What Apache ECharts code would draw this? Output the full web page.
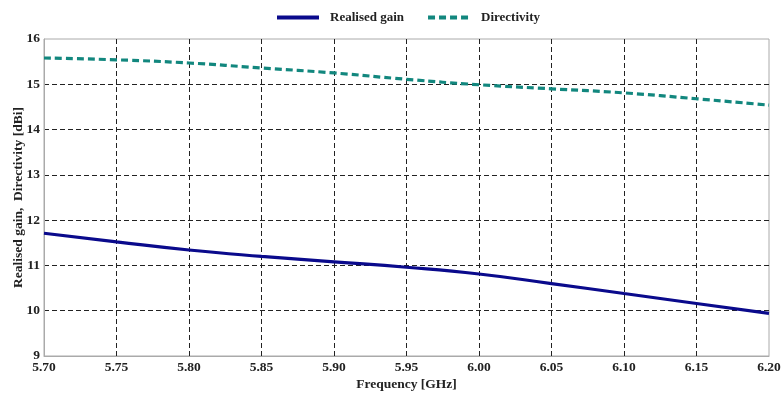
<!DOCTYPE html>
<html>
<head>
<meta charset="utf-8">
<script src="https://cdn.jsdelivr.net/npm/echarts@6/dist/echarts.min.js"></script>
<style>html,body{margin:0;padding:0;background:#fff}#c{width:781px;height:399px}</style>
</head>
<body>
<div id="c"></div>
<script>
const frequency = [5.70, 5.75, 5.80, 5.85, 5.90, 5.95, 6.00, 6.05, 6.10, 6.15, 6.20];
const realisedGain = [11.71, 11.52, 11.34, 11.20, 11.08, 10.96, 10.81, 10.60, 10.38, 10.16, 9.94];
const directivity = [15.58, 15.54, 15.47, 15.36, 15.25, 15.11, 14.99, 14.90, 14.81, 14.68, 14.54];
const seriesNames = ['Realised gain', 'Directivity'];
const xAxisName = 'Frequency [GHz]';
const yAxisName = 'Realised gain,  Directivity [dBi]';

const font = '"Liberation Serif", "Times New Roman", serif';
const chart = echarts.init(document.getElementById('c'), null, {renderer: 'canvas'});
const pair = (xs, ys) => xs.map((x, i) => [x, ys[i]]);
chart.setOption({
  animation: false,
  backgroundColor: '#fff',
  legend: {
    top: 6,
    left: 270,
    itemWidth: 42,
    itemHeight: 10,
    itemGap: 22,
    itemStyle: {opacity: 0},
    lineStyle: {width: 4},
    textStyle: {fontFamily: font, fontWeight: 'bold', fontSize: 13, color: '#222', padding: [0, 0, 0, 6]},
    data: seriesNames
  },
  grid: {left: 44, right: 12, top: 39, bottom: 43, show: true, borderColor: '#aaa', borderWidth: 1,
    outerBoundsMode: 'none', containLabel: false},
  xAxis: {
    type: 'value', min: 5.70, max: 6.20, interval: 0.05,
    name: xAxisName, nameLocation: 'middle', nameGap: 22, nameMoveOverlap: false,
    nameTextStyle: {fontFamily: font, fontWeight: 'bold', fontSize: 13.5, color: '#222'},
    axisLine: {lineStyle: {color: '#aaa', width: 1}},
    axisTick: {show: false},
    axisLabel: {fontFamily: font, fontWeight: 'bold', fontSize: 13.5, color: '#222', margin: 5,
      formatter: v => v.toFixed(2)},
    splitLine: {show: true, showMinLine: false, showMaxLine: false,
      lineStyle: {color: '#222', type: [5, 3], width: 1}}
  },
  yAxis: {
    type: 'value', min: 9, max: 16, interval: 1,
    name: yAxisName, nameLocation: 'middle', nameGap: 18, nameMoveOverlap: false,
    nameTextStyle: {fontFamily: font, fontWeight: 'bold', fontSize: 13.5, color: '#222'},
    axisLine: {show: true, lineStyle: {color: '#aaa', width: 1}},
    axisTick: {show: false},
    axisLabel: {fontFamily: font, fontWeight: 'bold', fontSize: 13.5, color: '#222', margin: 4},
    splitLine: {show: true, showMinLine: false, showMaxLine: false,
      lineStyle: {color: '#222', type: [5, 3], width: 1}}
  },
  series: [
    {
      name: seriesNames[0], type: 'line', data: pair(frequency, realisedGain),
      smooth: true, showSymbol: false, symbol: 'none',
      lineStyle: {color: '#0a0a8c', width: 3.2},
      itemStyle: {color: '#0a0a8c'}
    },
    {
      name: seriesNames[1], type: 'line', data: pair(frequency, directivity),
      smooth: true, showSymbol: false, symbol: 'none',
      lineStyle: {color: '#12877e', width: 3.2, type: [7, 4]},
      itemStyle: {color: '#12877e'}
    }
  ]
});
</script>
</body>
</html>
